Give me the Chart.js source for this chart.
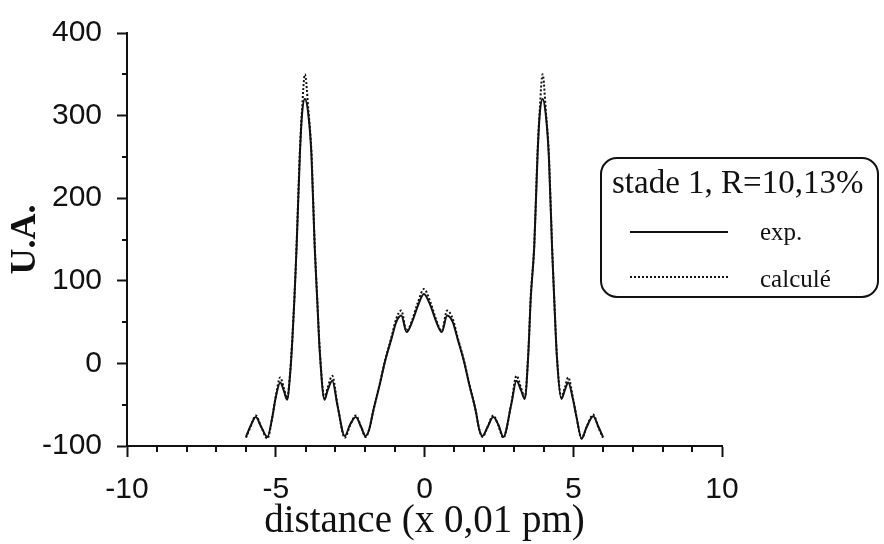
<!DOCTYPE html>
<html>
<head>
<meta charset="utf-8">
<script src="https://cdn.jsdelivr.net/npm/chart.js@4.4.1/dist/chart.umd.min.js"></script>
<style>
html, body { margin: 0; padding: 0; background: #fff; }
#wrap { position: relative; width: 884px; height: 544px; }
</style>
</head>
<body>
<div id="wrap"><canvas id="profil"></canvas></div>
<script>
// profil radial - stade 1
var xValues = [-6.00,-5.85,-5.67,-5.50,-5.28,-5.12,-5.00,-4.85,-4.72,-4.62,-4.51,-4.44,-4.37,-4.30,-4.19,-4.12,-4.02,-3.90,-3.80,-3.69,-3.61,-3.52,-3.36,-3.26,-3.10,-2.92,-2.68,-2.50,-2.31,-2.13,-1.98,-1.86,-1.72,-1.50,-1.33,-1.11,-0.95,-0.78,-0.60,-0.42,-0.22,-0.02,0.20,0.40,0.58,0.76,0.95,1.11,1.33,1.50,1.72,1.84,1.95,2.12,2.31,2.48,2.65,2.92,3.09,3.25,3.37,3.49,3.57,3.69,3.80,3.87,3.97,4.08,4.18,4.29,4.36,4.45,4.60,4.72,4.83,5.00,5.11,5.28,5.45,5.67,5.85,6.00];
var expValues = [-89,-76,-65,-76,-89,-66,-41,-23,-34,-44,-10,30,80,140,252,300,320,300,252,140,80,14,-44,-33,-21,-52,-88,-74,-65,-77,-88,-80,-57,-25,2,30,50,58,38,50,70,84,70,50,38,58,50,30,2,-25,-57,-80,-88,-77,-65,-74,-89,-49,-21,-33,-43,12,78,142,252,300,320,300,250,138,78,8,-43,-32,-23,-45,-65,-91,-77,-64,-77,-89];
var calcValues = [-90,-77,-63,-76,-91,-66,-40,-17,-31,-42,-8,32,82,143,256,305,350,305,256,143,82,16,-42,-30,-15,-51,-90,-75,-63,-77,-89,-80,-57,-24,3,32,54,64,39,52,74,90,74,52,39,64,54,32,3,-24,-57,-80,-89,-77,-63,-75,-90,-48,-15,-30,-41,14,80,145,256,305,350,305,254,141,80,10,-41,-29,-17,-44,-65,-91,-77,-62,-78,-90];
var seriesNames = ["exp.", "calculé"];
var legendTitle = "stade 1, R=10,13%";

var ink = '#111';

function toPoints(ys) {
    return xValues.map(function (x, i) { return { x: x, y: ys[i] }; });
}

// petites graduations (pas de minor ticks dans Chart.js)
var minorTicks = {
    id: 'minorTicks',
    afterDraw: function (chart) {
        var ctx = chart.ctx, xs = chart.scales.x, ys = chart.scales.y;
        ctx.save();
        ctx.strokeStyle = ink;
        ctx.lineWidth = 2;
        ctx.beginPath();
        for (var v = -9; v < 10; v++) {
            if (v % 5 === 0) continue;
            var px = Math.round(xs.getPixelForValue(v));
            ctx.moveTo(px, ys.bottom);
            ctx.lineTo(px, ys.bottom + 6);
        }
        for (var w = -50; w < 400; w += 100) {
            var py = Math.round(ys.getPixelForValue(w));
            ctx.moveTo(xs.left, py);
            ctx.lineTo(xs.left - 5, py);
        }
        ctx.stroke();
        ctx.restore();
    }
};

// legende dans un cadre arrondi
var boxLegend = {
    id: 'boxLegend',
    afterDraw: function (chart, args, opts) {
        var ctx = chart.ctx;
        var x = opts.x, y = opts.y, w = opts.w, h = opts.h, r = 16;
        ctx.save();
        ctx.fillStyle = '#fff';
        ctx.strokeStyle = ink;
        ctx.lineWidth = 2;
        ctx.beginPath();
        ctx.roundRect(x, y, w, h, r);
        ctx.fill();
        ctx.stroke();

        ctx.fillStyle = ink;
        ctx.textBaseline = 'alphabetic';
        ctx.font = '33px "Liberation Serif"';
        ctx.fillText(legendTitle, x + 11, y + 35);

        ctx.font = '25px "Liberation Serif"';
        chart.data.datasets.forEach(function (ds, i) {
            var ly = y + 74 + i * 45;
            ctx.beginPath();
            ctx.setLineDash(ds.borderDash || []);
            ctx.lineWidth = 2;
            ctx.moveTo(x + 29, ly);
            ctx.lineTo(x + 127, ly);
            ctx.stroke();
            ctx.setLineDash([]);
            ctx.fillText(ds.label, x + 159, ly + 8 + i * 2);
        });
        ctx.restore();
    }
};

var ctx = document.getElementById('profil');
var myChart = new Chart(ctx, {
    type: 'line',
    data: {
        datasets: [{
            label: seriesNames[0],
            data: toPoints(expValues),
            borderColor: ink,
            borderWidth: 2,
            pointRadius: 0,
            cubicInterpolationMode: 'monotone',
            fill: false
        }, {
            label: seriesNames[1],
            data: toPoints(calcValues),
            borderColor: ink,
            borderWidth: 2,
            borderDash: [2, 2],
            pointRadius: 0,
            cubicInterpolationMode: 'monotone',
            fill: false
        }]
    },
    options: {
        animation: false,
        responsive: true,
        maintainAspectRatio: false,
        layout: { padding: { top: 25, right: 162, left: 0, bottom: 0 } },
        plugins: {
            legend: { display: false },
            tooltip: { enabled: false },
            boxLegend: { x: 601, y: 158, w: 277, h: 139 }
        },
        scales: {
            x: {
                type: 'linear',
                min: -10,
                max: 10,
                afterFit: function (s) { s.height = 98; },
                border: { display: true, color: ink, width: 2 },
                grid: { drawOnChartArea: false, tickLength: 11, tickColor: ink, tickWidth: 2 },
                ticks: {
                    stepSize: 5,
                    padding: 15,
                    color: ink,
                    maxRotation: 0,
                    font: { family: '"Liberation Sans"', size: 30 }
                },
                title: {
                    display: true,
                    text: 'distance (x 0,01 pm)',
                    color: ink,
                    padding: { top: 0, bottom: 3 },
                    font: { family: '"Liberation Serif"', size: 39, lineHeight: 1 }
                }
            },
            y: {
                min: -100,
                max: 400,
                afterFit: function (s) { s.width = 127; },
                border: { display: true, color: ink, width: 2 },
                grid: { drawOnChartArea: false, tickLength: 10, tickColor: ink, tickWidth: 2 },
                ticks: {
                    stepSize: 100,
                    padding: 15,
                    color: ink,
                    font: { family: '"Liberation Sans"', size: 30 }
                },
                title: {
                    display: true,
                    text: 'U.A.',
                    color: ink,
                    padding: { top: 8, bottom: 0 },
                    font: { family: '"Liberation Serif"', size: 36, weight: 'bold', lineHeight: 1 }
                }
            }
        }
    },
    plugins: [minorTicks, boxLegend]
});
</script>
</body>
</html>
